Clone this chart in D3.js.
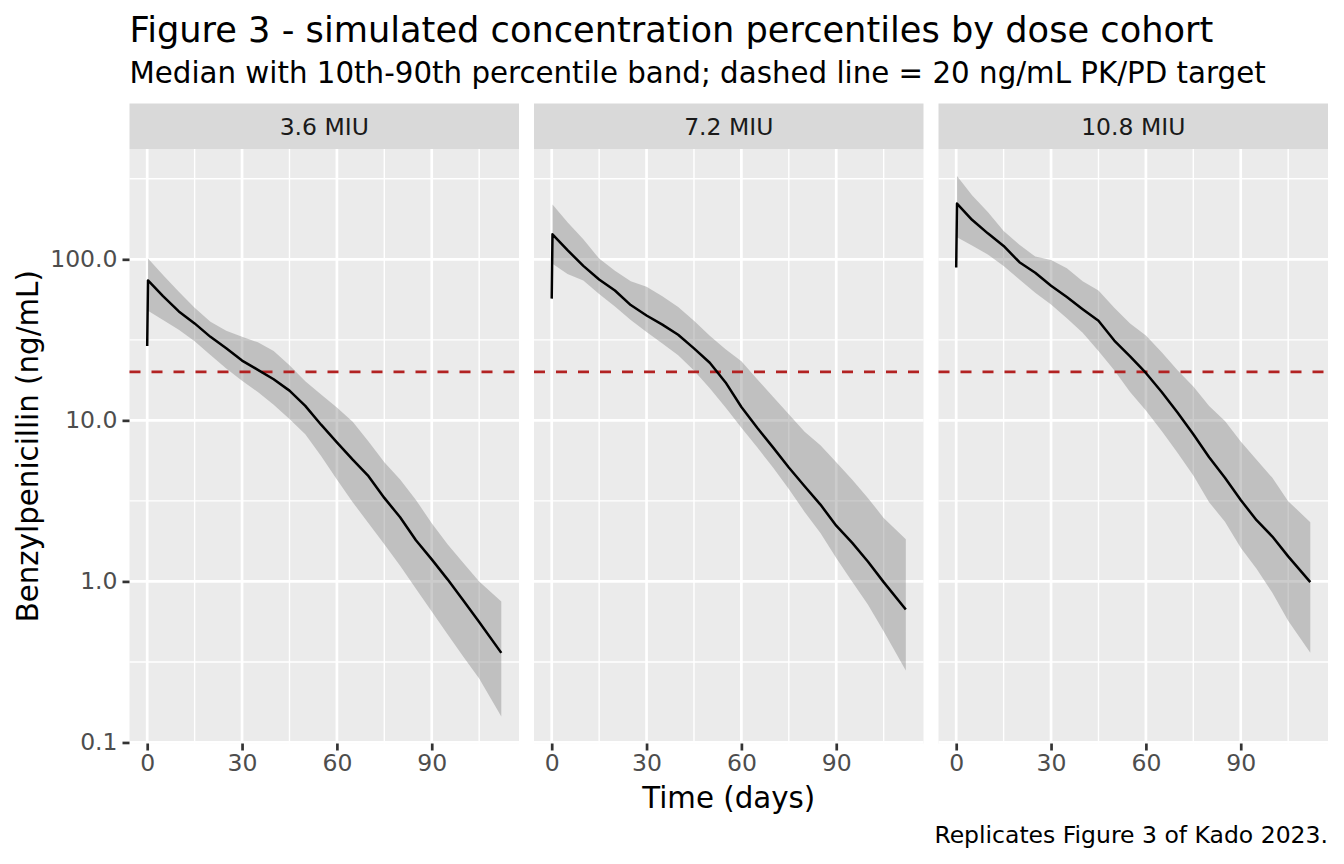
<!DOCTYPE html>
<html>
<head>
<meta charset="utf-8">
<script src="https://cdn.jsdelivr.net/npm/d3@7"></script>
<style>
  body { margin: 0; background: #ffffff; }
  text { font-family: "DejaVu Sans", sans-serif; }
</style>
</head>
<body>
<div id="chart"></div>
<script>
// Chart data
var cohorts = ["3.6 MIU", "7.2 MIU", "10.8 MIU"];
var days = [0, 0.25, 5, 10, 15, 20, 25, 30, 35, 40, 45, 50, 55, 60, 65, 70, 75, 80, 85, 90, 95, 100, 105, 112];

// median concentration (ng/mL), one array per cohort
var median36 = [29, 74, 59, 47.5, 40, 33, 28, 23.5, 20.6, 18, 15.3, 12.3, 9.4, 7.3, 5.7, 4.5, 3.3, 2.5, 1.8, 1.37, 1.03, 0.76, 0.56, 0.36];
var median72 = [57, 143, 114, 91, 75, 64, 52, 44.8, 39.3, 34, 28, 22.8, 17.2, 12.1, 9.0, 6.8, 5.1, 3.9, 3.0, 2.22, 1.74, 1.33, 0.99, 0.67];
var median108 = [89, 222, 176, 145, 121, 96, 82.5, 68.5, 58.3, 49, 41.5, 31.3, 25, 19.7, 15, 11.2, 8.2, 5.9, 4.4, 3.2, 2.4, 1.9, 1.43, 0.99];

// 90th percentile
var upper36 = [null, 101, 80, 63, 50, 41, 36, 33, 30.5, 27, 22, 17.5, 14.5, 12, 9.8, 7.4, 5.5, 4.3, 3.2, 2.3, 1.7, 1.3, 1.0, 0.75];
var upper72 = [null, 219, 170, 133, 101, 85, 73, 67.6, 59, 50.5, 41.5, 33.5, 27.6, 23.3, 18, 14, 10.9, 8.5, 7.0, 5.5, 4.3, 3.3, 2.48, 1.83];
var upper108 = [null, 329, 250, 197, 150, 123, 104, 99, 88, 73, 64, 50, 40, 33.7, 26.5, 20.5, 16.2, 12.3, 9.9, 7.4, 5.7, 4.4, 3.15, 2.33];

// 10th percentile
var lower36 = [null, 48, 42, 36.5, 31, 25.5, 21, 17.6, 15, 12.5, 10.2, 8.2, 6.0, 4.3, 3.1, 2.3, 1.7, 1.25, 0.9, 0.65, 0.47, 0.34, 0.25, 0.145];
var lower72 = [null, 94, 81, 73.8, 61, 51, 42, 35.4, 30, 25.4, 20.4, 15.8, 12, 9.0, 6.8, 5.1, 3.75, 2.7, 2.0, 1.4, 1.0, 0.72, 0.49, 0.28];
var lower108 = [null, 137, 122, 107, 91, 75, 62, 52.4, 43, 35, 27, 20.5, 15, 11.5, 8.6, 6.3, 4.55, 3.1, 2.35, 1.62, 1.2, 0.85, 0.57, 0.36];

var targetConc = 20;

var xTicks = [0, 30, 60, 90];
var xMinor = [15, 45, 75, 105];
var yTicks = [0.1, 1, 10, 100];
var yTickLabels = ["0.1", "1.0", "10.0", "100.0"];

var medians = [median36, median72, median108];
var uppers = [upper36, upper72, upper108];
var lowers = [lower36, lower72, lower108];

// layout
var svgWidth = 1344;
var svgHeight = 864;
var panelTop = 149;
var panelBottom = 743.5;
var stripTop = 103.5;
var panelLeft = 129.5;
var panelWidth = 389.5;
var panelGap = 15;

var svg = d3.select("#chart")
  .append("svg")
  .attr("width", svgWidth)
  .attr("height", svgHeight);

// x scale: data range with 5% expansion, like ggplot
var xMax = d3.max(days);
var xPad = xMax * 0.05;
var xScale = d3.scaleLinear()
  .domain([0 - xPad, xMax + xPad])
  .range([0, panelWidth]);

// y scale: log10, 5% expansion in log space
var allLow = d3.min(lowers.concat(medians).flat().filter(d => d != null));
var allHigh = d3.max(uppers.concat(medians).flat().filter(d => d != null));
var lLo = Math.log10(allLow), lHi = Math.log10(allHigh);
var lPad = (lHi - lLo) * 0.05;
var yScale = d3.scaleLog()
  .domain([Math.pow(10, lLo - lPad), Math.pow(10, lHi + lPad)])
  .range([panelBottom, panelTop]);
var yMinor = [-0.5, 0.5, 1.5, 2.5].map(e => Math.pow(10, e));

var area = d3.area()
  .defined((d, i) => d.lo != null)
  .x(d => xScale(d.t))
  .y0(d => yScale(d.lo))
  .y1(d => yScale(d.hi));

var line = d3.line()
  .x(d => xScale(d.t))
  .y(d => yScale(d.m));

cohorts.forEach(function (name, p) {
  var x0 = panelLeft + p * (panelWidth + panelGap);
  var g = svg.append("g").attr("transform", `translate(${x0}, 0)`);

  // strip
  g.append("rect")
    .attr("x", 0).attr("y", stripTop)
    .attr("width", panelWidth).attr("height", panelTop - stripTop)
    .attr("fill", "#d9d9d9");
  g.append("text")
    .attr("x", panelWidth / 2)
    .attr("y", (stripTop + panelTop) / 2)
    .attr("dy", "0.36em")
    .attr("text-anchor", "middle")
    .attr("fill", "#1a1a1a")
    .style("font-size", "23.5px")
    .text(name);

  // panel background
  g.append("rect")
    .attr("x", 0).attr("y", panelTop)
    .attr("width", panelWidth).attr("height", panelBottom - panelTop)
    .attr("fill", "#ebebeb");

  // minor grid
  g.selectAll(".ymin").data(yMinor).enter().append("line")
    .attr("x1", 0).attr("x2", panelWidth)
    .attr("y1", d => yScale(d)).attr("y2", d => yScale(d))
    .attr("stroke", "#ffffff").attr("stroke-width", 1.4);
  g.selectAll(".xmin").data(xMinor).enter().append("line")
    .attr("x1", d => xScale(d)).attr("x2", d => xScale(d))
    .attr("y1", panelTop).attr("y2", panelBottom)
    .attr("stroke", "#ffffff").attr("stroke-width", 1.4);

  // major grid
  g.selectAll(".ymaj").data(yTicks).enter().append("line")
    .attr("x1", 0).attr("x2", panelWidth)
    .attr("y1", d => yScale(d)).attr("y2", d => yScale(d))
    .attr("stroke", "#ffffff").attr("stroke-width", 2.7);
  g.selectAll(".xmaj").data(xTicks).enter().append("line")
    .attr("x1", d => xScale(d)).attr("x2", d => xScale(d))
    .attr("y1", panelTop).attr("y2", panelBottom)
    .attr("stroke", "#ffffff").attr("stroke-width", 2.7);

  var pts = days.map((t, i) => ({t: t, m: medians[p][i], lo: lowers[p][i], hi: uppers[p][i]}));

  // percentile band
  g.append("path")
    .datum(pts)
    .attr("d", area)
    .attr("fill", "#7f7f7f")
    .attr("fill-opacity", 0.4);

  // target line
  g.append("line")
    .attr("x1", 0).attr("x2", panelWidth)
    .attr("y1", yScale(targetConc)).attr("y2", yScale(targetConc))
    .attr("stroke", "#b22222")
    .attr("stroke-width", 2.6)
    .attr("stroke-dasharray", "11,11");

  // median
  g.append("path")
    .datum(pts)
    .attr("d", line)
    .attr("fill", "none")
    .attr("stroke", "#000000")
    .attr("stroke-width", 2.5)
    .attr("stroke-linejoin", "round");

  // bottom axis
  var bottomAxis = d3.axisBottom(xScale)
    .tickValues(xTicks)
    .tickSize(7)
    .tickPadding(4);
  var ax = g.append("g")
    .attr("transform", `translate(0, ${panelBottom})`)
    .call(bottomAxis);
  ax.select(".domain").remove();
  ax.selectAll("line").attr("stroke", "#333333").attr("stroke-width", 2.7);
  ax.selectAll("text")
    .attr("fill", "#4d4d4d")
    .style("font-size", "23.5px")
    .style("font-family", "DejaVu Sans, sans-serif");

  // left axis only on the first panel
  if (p === 0) {
    var leftAxis = d3.axisLeft(yScale)
      .tickValues(yTicks)
      .tickFormat((d, i) => yTickLabels[i])
      .tickSize(7)
      .tickPadding(5);
    var ay = g.append("g").call(leftAxis);
    ay.select(".domain").remove();
    ay.selectAll("line").attr("stroke", "#333333").attr("stroke-width", 2.7);
    ay.selectAll("text")
      .attr("fill", "#4d4d4d")
      .style("font-size", "23.5px")
      .style("font-family", "DejaVu Sans, sans-serif");
  }
});

var panelsRight = panelLeft + 3 * panelWidth + 2 * panelGap;

// titles
svg.append("text")
  .attr("x", panelLeft).attr("y", 42)
  .style("font-size", "35.2px")
  .attr("fill", "#000000")
  .text("Figure 3 - simulated concentration percentiles by dose cohort");

svg.append("text")
  .attr("x", panelLeft).attr("y", 83)
  .style("font-size", "29.3px")
  .attr("fill", "#000000")
  .text("Median with 10th-90th percentile band; dashed line = 20 ng/mL PK/PD target");

// axis titles
svg.append("text")
  .attr("x", (panelLeft + panelsRight) / 2).attr("y", 808)
  .attr("text-anchor", "middle")
  .style("font-size", "29.3px")
  .text("Time (days)");

svg.append("text")
  .attr("transform", `translate(38, ${(panelTop + panelBottom) / 2}) rotate(-90)`)
  .attr("text-anchor", "middle")
  .style("font-size", "29.3px")
  .text("Benzylpenicillin (ng/mL)");

// caption
svg.append("text")
  .attr("x", panelsRight).attr("y", 843)
  .attr("text-anchor", "end")
  .style("font-size", "23.5px")
  .text("Replicates Figure 3 of Kado 2023.");
</script>
</body>
</html>
